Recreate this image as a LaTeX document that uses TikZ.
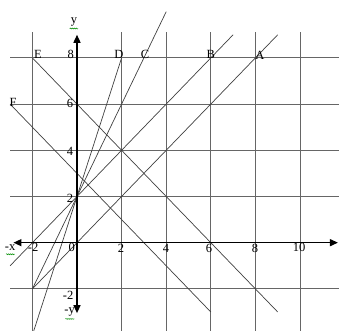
\documentclass[tikz,border=0pt]{standalone}
\usepackage{fontspec}
\setmainfont{Liberation Serif}
\usetikzlibrary{arrows.meta,decorations.pathmorphing}
\begin{document}
\begin{tikzpicture}[x=22.3pt,y=23.1pt,
  gridline/.style={draw=black!60,line width=0.8pt},
  fline/.style={draw=black!75,line width=0.7pt},
  axisline/.style={draw=black,line width=1.4pt,{Triangle[length=8pt,width=7pt]}-{Triangle[length=8pt,width=7pt]}},
  lab/.style={font=\fontsize{12.5}{12.5}\selectfont,inner sep=0pt},
  squig/.style={draw=green!55!black,line width=0.5pt,decorate,decoration={snake,amplitude=0.5pt,segment length=2pt}}]
\useasboundingbox (-3.453,-3.823) rectangle (11.749,10.506);
\clip (-3.453,-3.823) rectangle (11.749,10.506);
% grid
\foreach \x in {-2,2,4,6,8,10} \draw[gridline] (\x,9.1) -- (\x,-4);
\foreach \y in {-2,2,4,6,8} \draw[gridline] (-3,\y) -- (12,\y);
% line end points
\coordinate (a1) at (-2,-2); \coordinate (a2) at (9,9);
\coordinate (b1) at (-3,-1); \coordinate (b2) at (7,9);
\coordinate (c1) at (-2,-2); \coordinate (c2) at (4,10);
\coordinate (d1) at (-2,-4); \coordinate (d2) at (2,8);
\coordinate (e1) at (-2,8); \coordinate (e2) at (9,-3);
\coordinate (f1) at (-3,6); \coordinate (f2) at (6,-3);
\draw[fline] (a1) -- (a2);
\draw[fline] (b1) -- (b2);
\draw[fline] (c1) -- (c2);
\draw[fline] (d1) -- (d2);
\draw[fline] (e1) -- (e2);
\draw[fline] (f1) -- (f2);
% axes
\coordinate (xl) at (-2.85,0); \coordinate (xr) at (11.7,0);
\coordinate (yb) at (0,-3.05); \coordinate (yt) at (0,9.0);
\draw[axisline] (xl) -- (xr);
\draw[axisline] (yb) -- (yt);
% axis labels
\node[lab] (ly) at (-0.13,9.55) {y};
\node[lab] (lmx) at (-3.0,-0.2) {-x};
\node[lab] (lmy) at (-0.33,-3.02) {-y};
\draw[squig] (-0.33,9.27) -- (0.05,9.27);
\draw[squig] (-3.18,-0.5) -- (-2.8,-0.5);
\draw[squig] (-0.52,-3.3) -- (-0.12,-3.3);
% tick labels
\node[lab] (t8) at (-0.28,8.13) {8};
\node[lab] (t6) at (-0.31,6.05) {6};
\node[lab] (t4) at (-0.31,3.97) {4};
\node[lab] (t2) at (-0.31,1.94) {2};
\node[lab] (tm2y) at (-0.40,-2.3) {-2};
\node[lab] (tm2x) at (-1.97,-0.19) {-2};
\node[lab] (t0) at (-0.24,-0.19) {0};
\node[lab] (s2) at (1.97,-0.23) {2};
\node[lab] (s4) at (3.99,-0.23) {4};
\node[lab] (s6) at (5.92,-0.23) {6};
\node[lab] (s8) at (7.98,-0.23) {8};
\node[lab] (s10) at (9.96,-0.19) {10};
% point labels
\node[lab] (pE) at (-1.75,8.13) {E};
\node[lab] (pF) at (-2.87,6.09) {F};
\node[lab] (pD) at (1.88,8.13) {D};
\node[lab] (pC) at (3.05,8.13) {C};
\node[lab] (pB) at (6.0,8.13) {B};
\node[lab] (pA) at (8.2,8.13) {A};
\end{tikzpicture}
\end{document}
